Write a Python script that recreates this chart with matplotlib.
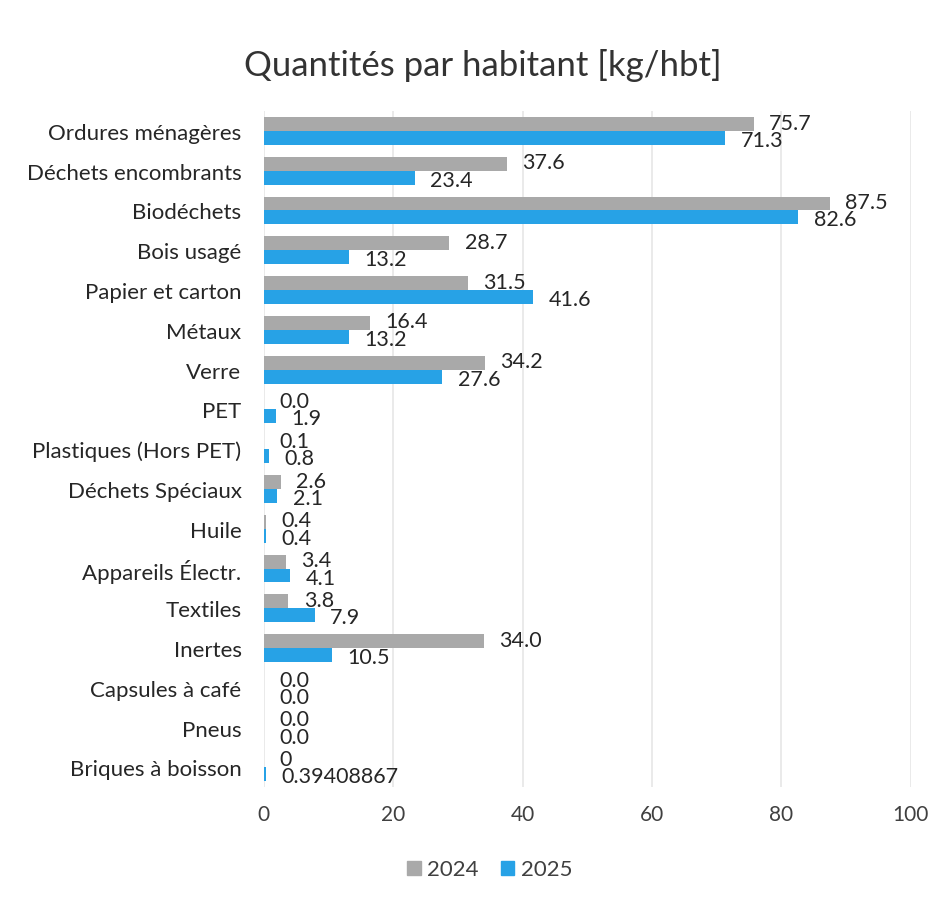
import matplotlib
matplotlib.use("Agg")
import numpy as np
import matplotlib.pyplot as plt
from matplotlib.patches import Patch

categories = ["Ordures ménagères", "Déchets encombrants", "Biodéchets", "Bois usagé",
              "Papier et carton", "Métaux", "Verre", "PET", "Plastiques (Hors PET)",
              "Déchets Spéciaux", "Huile", "Appareils Électr.", "Textiles", "Inertes",
              "Capsules à café", "Pneus", "Briques à boisson"]
val_2024 = [75.7, 37.6, 87.5, 28.7, 31.5, 16.4, 34.2, 0.0, 0.1, 2.6, 0.4, 3.4, 3.8, 34.0,
            0.0, 0.0, 0]
val_2025 = [71.3, 23.4, 82.6, 13.2, 41.6, 13.2, 27.6, 1.9, 0.8, 2.1, 0.4, 4.1, 7.9, 10.5,
            0.0, 0.0, 0.39408867]
lab_2024 = ["75.7", "37.6", "87.5", "28.7", "31.5", "16.4", "34.2", "0.0", "0.1", "2.6",
            "0.4", "3.4", "3.8", "34.0", "0.0", "0.0", "0"]
lab_2025 = ["71.3", "23.4", "82.6", "13.2", "41.6", "13.2", "27.6", "1.9", "0.8", "2.1",
            "0.4", "4.1", "7.9", "10.5", "0.0", "0.0", "0.39408867"]

GRAY = "#A9A9A9"
BLUE = "#27A2E6"
TXT = "#262626"

plt.rcParams["font.family"] = ["Lato", "DejaVu Sans"]

fig = plt.figure(figsize=(9.42, 9.03), dpi=100)
ax = fig.add_axes([0.280, 0.127, 0.687, 0.749])

y = np.arange(len(categories))
h = 0.35
ax.barh(y - h / 2, val_2024, height=h, color=GRAY, label="2024")
ax.barh(y + h / 2, val_2025, height=h, color=BLUE, label="2025")

for i in range(len(categories)):
    ax.annotate(lab_2024[i], (val_2024[i], y[i] - h / 2), xytext=(11, 1),
                textcoords="offset points", va="center", ha="left",
                fontsize=15.5, color=TXT)
    ax.annotate(lab_2025[i], (val_2025[i], y[i] + h / 2), xytext=(11, -1.5),
                textcoords="offset points", va="center", ha="left",
                fontsize=15.5, color=TXT)

ax.set_xlim(0, 100)
ax.set_ylim(len(categories) - 0.5, -0.5)
ax.set_xticks(np.arange(0, 101, 20))
ax.set_yticks(y)
ax.set_yticklabels(categories)
ax.tick_params(axis="y", length=0, pad=16, labelsize=16, labelcolor=TXT)
ax.tick_params(axis="x", length=0, pad=12, labelsize=15, labelcolor="#404040")
ax.grid(axis="x", color="#E6E6E6", linewidth=1.2)
ax.set_axisbelow(True)
for s in ax.spines.values():
    s.set_visible(False)

fig.text(0.513, 0.927, "Quantités par habitant [kg/hbt]", ha="center", va="center",
         fontsize=25, color="#333333")

handles = [Patch(color=GRAY, label="2024"), Patch(color=BLUE, label="2025")]
fig.legend(handles=handles, loc="center", bbox_to_anchor=(0.52, 0.036), ncol=2,
           frameon=False, fontsize=16, handlelength=0.6, handleheight=0.6,
           handletextpad=0.3, columnspacing=1.0, labelcolor="#404040")

fig.savefig("out.png", dpi=100)
